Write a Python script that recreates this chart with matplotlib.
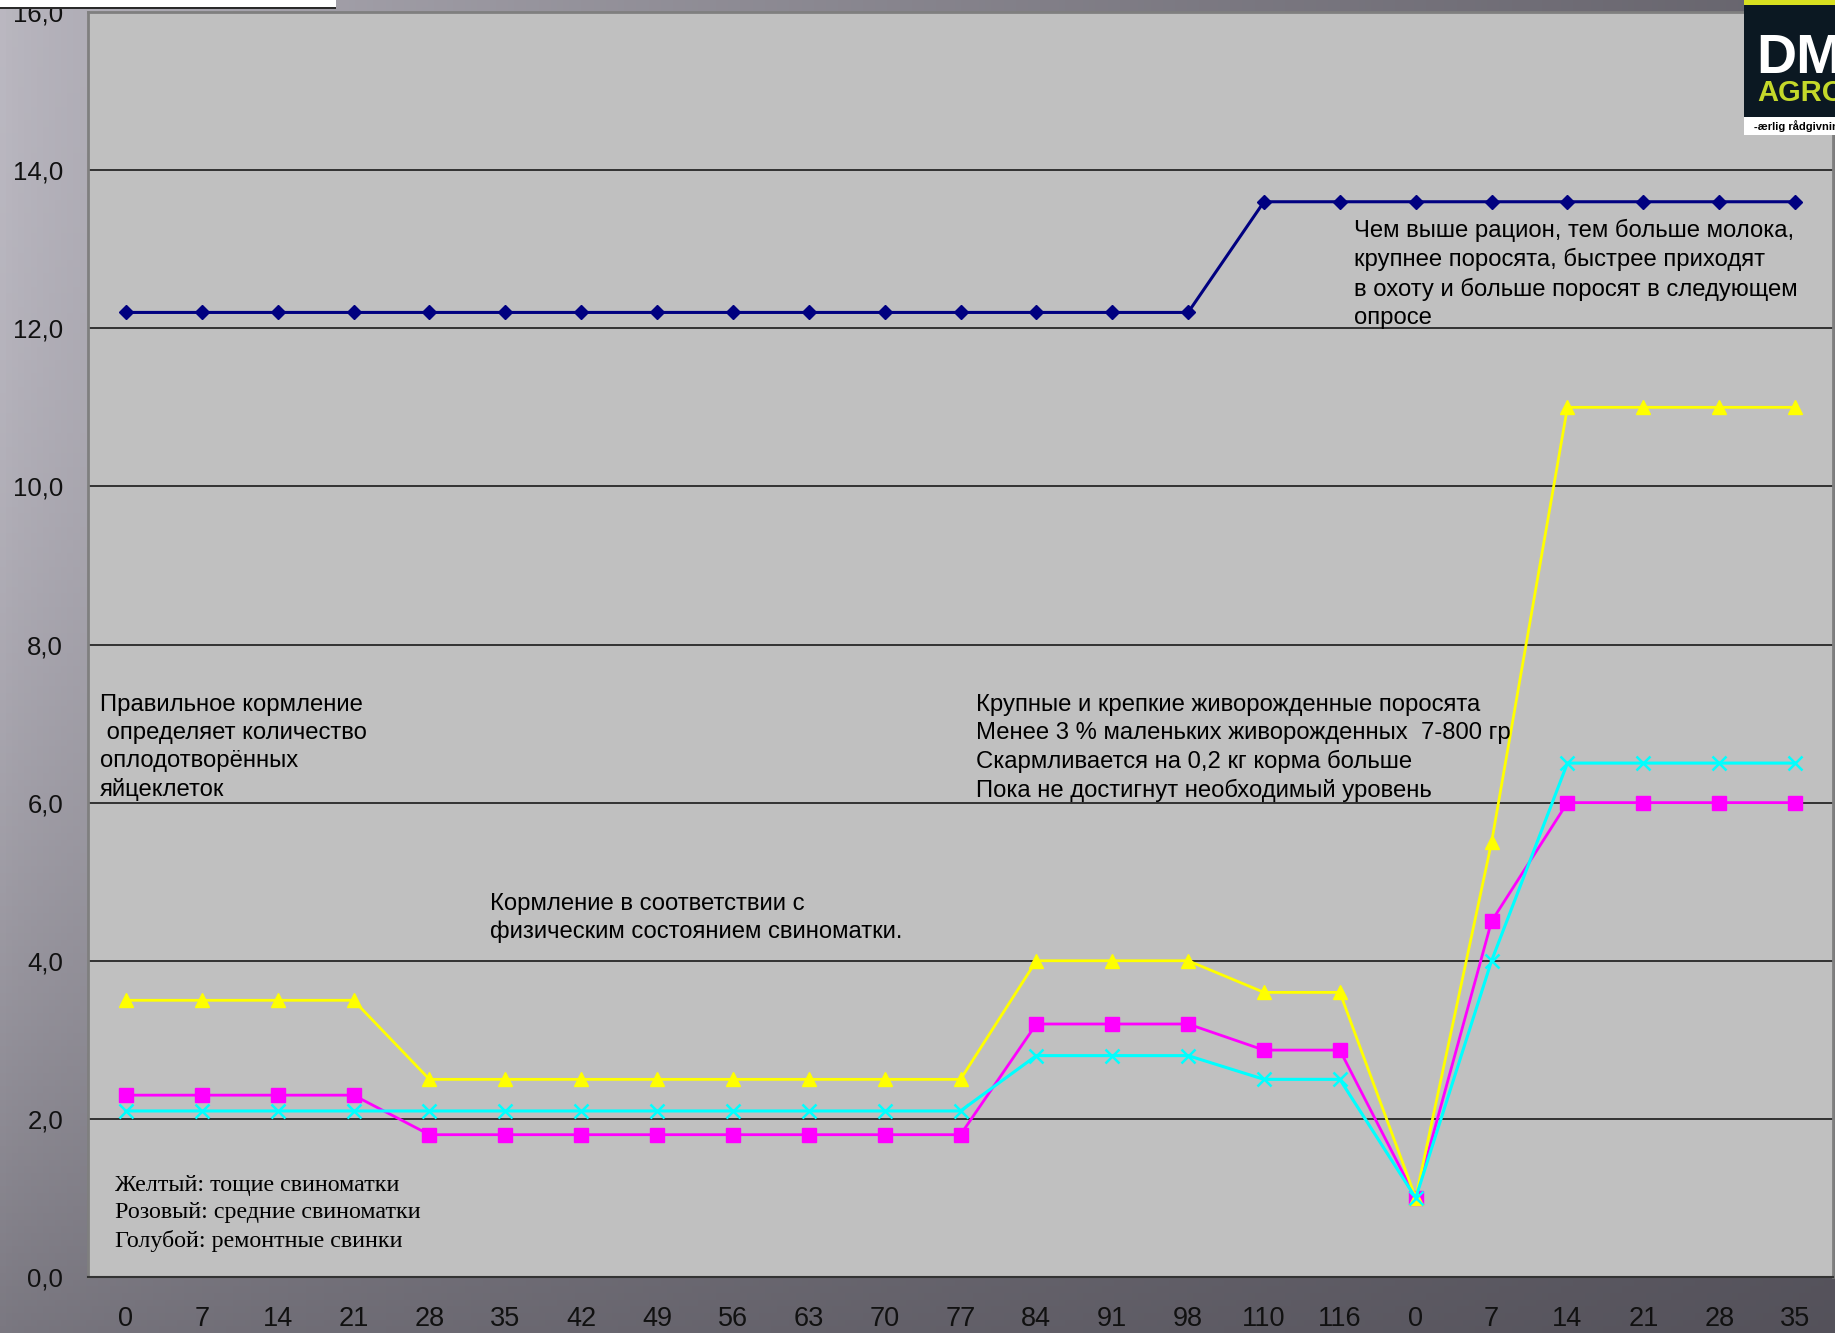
import numpy as np
import matplotlib
matplotlib.use('Agg')
import matplotlib.pyplot as plt
from matplotlib.patches import Rectangle

plt.rcParams['font.family'] = ['Liberation Sans', 'DejaVu Sans']

# подписи оси X (дни)
days = ['0', '7', '14', '21', '28', '35', '42', '49', '56', '63', '70', '77',
        '84', '91', '98', '110', '116', '0', '7', '14', '21', '28', '35']
# кг корма в день
lactation = [12.2] * 15 + [13.6] * 8
yellow = [3.5, 3.5, 3.5, 3.5, 2.5, 2.5, 2.5, 2.5, 2.5, 2.5, 2.5, 2.5,
          4.0, 4.0, 4.0, 3.6, 3.6, 1.0, 5.5, 11.0, 11.0, 11.0, 11.0]
pink = [2.3, 2.3, 2.3, 2.3, 1.8, 1.8, 1.8, 1.8, 1.8, 1.8, 1.8, 1.8,
        3.2, 3.2, 3.2, 2.87, 2.87, 1.0, 4.5, 6.0, 6.0, 6.0, 6.0]
blue = [2.1, 2.1, 2.1, 2.1, 2.1, 2.1, 2.1, 2.1, 2.1, 2.1, 2.1, 2.1,
        2.8, 2.8, 2.8, 2.5, 2.5, 1.0, 4.0, 6.5, 6.5, 6.5, 6.5]
yticks = [0, 2, 4, 6, 8, 10, 12, 14, 16]

W, H = 1835, 1333
fig = plt.figure(figsize=(W / 100, H / 100), dpi=100)

# фон слайда - градиент
yy, xx = np.mgrid[0:1:200j, 0:1:300j]
u = xx ** 0.7
v = yy ** 2
L = 0.73 * (1 - u) * (1 - v) + 0.40 * u * (1 - v) + 0.48 * (1 - u) * v + 0.33 * u * v
bg = np.dstack([L, L - 0.01, L + 0.025]).clip(0, 1)
axbg = fig.add_axes([0, 0, 1, 1], zorder=-1)
axbg.imshow(bg, aspect='auto', extent=[0, 1, 0, 1], origin='upper')
axbg.axis('off')

x0, x1, y0, y1 = 88, 1833, 12, 1277
ax = fig.add_axes([x0 / W, 1 - y1 / H, (x1 - x0) / W, (y1 - y0) / H])
ax.set_facecolor('#c0c0c0')
x = np.arange(len(days))

ax.plot(x, lactation, color='#000080', lw=2.2, marker='D', ms=7.5, zorder=3)
ax.plot(x, pink, color='#ff00ff', lw=2, marker='s', ms=10.5, zorder=4)
ax.plot(x, yellow, color='#ffff00', lw=2, marker='^', ms=10.5, zorder=5)
ax.plot(x, blue, color='#00ffff', lw=2.2, marker='x', ms=10, mew=1.8, zorder=6)

ax.set_xlim(-0.5, len(days) - 0.5)
ax.set_ylim(0, 16)
ax.set_xticks(x)
ax.set_xticklabels(days)
ax.set_yticks(yticks)
ax.set_yticklabels([('%.1f' % t).replace('.', ',') for t in yticks])
ax.tick_params(axis='x', length=0, pad=21, labelsize=19.5, labelcolor='#111111')
ax.tick_params(axis='y', length=0, pad=18, labelsize=18.5, labelcolor='#111111')
for t in yticks[1:-1]:
    ax.axhline(t, color='#1a1a1a', lw=1.2, zorder=1)
for s in ['left', 'top', 'right']:
    ax.spines[s].set_color('#7f7f7f')
    ax.spines[s].set_linewidth(2)
ax.spines['bottom'].set_color('#333333')
ax.spines['bottom'].set_linewidth(1.5)

def fx(px):
    return (px - x0) / (x1 - x0)

def fy(py):
    return (y1 - py) / (y1 - y0)

fs = 17.2
ls = 1.34
ax.text(fx(100), fy(694), 'Правильное кормление\n определяет количество\nоплодотворённых\nяйцеклеток',
        transform=ax.transAxes, fontsize=fs, va='top', ha='left', linespacing=ls, zorder=7)
ax.text(fx(976), fy(694), 'Крупные и крепкие живорожденные поросята\n'
        'Менее 3 % маленьких живорожденных  7-800 гр\n'
        'Скармливается на 0,2 кг корма больше\n'
        'Пока не достигнут необходимый уровень',
        transform=ax.transAxes, fontsize=fs, va='top', ha='left', linespacing=ls, zorder=7)
ax.text(fx(490), fy(893), 'Кормление в соответствии с\nфизическим состоянием свиноматки.',
        transform=ax.transAxes, fontsize=fs, va='top', ha='left', linespacing=ls, zorder=7)
ax.text(fx(1354), fy(219), 'Чем выше рацион, тем больше молока,\nкрупнее поросята, быстрее приходят\n'
        'в охоту и больше поросят в следующем\nопросе',
        transform=ax.transAxes, fontsize=fs, va='top', ha='left', linespacing=ls, zorder=7)
ax.text(fx(115), fy(1175), 'Желтый: тощие свиноматки\nРозовый: средние свиноматки\nГолубой: ремонтные свинки',
        transform=ax.transAxes, fontsize=17.3, va='top', ha='left', linespacing=1.4,
        family=['Liberation Serif', 'DejaVu Serif'], zorder=7)

# белая полоса сверху слева (остаток заголовка)
fig.patches.append(Rectangle((0, 1 - 7 / H), 336 / W, 7 / H, transform=fig.transFigure,
                             facecolor='white', edgecolor='none', zorder=5))
fig.patches.append(Rectangle((0, 1 - 9 / H), 336 / W, 2 / H, transform=fig.transFigure,
                             facecolor='#2a2a2a', edgecolor='none', zorder=5))

# логотип DM AGRO
lx = 1744
fig.patches.append(Rectangle((lx / W, 1 - 117 / H), (W - lx) / W, 117 / H, transform=fig.transFigure,
                             facecolor='#0b1822', edgecolor='none', zorder=5))
fig.patches.append(Rectangle((lx / W, 1 - 135 / H), (W - lx) / W, 18 / H, transform=fig.transFigure,
                             facecolor='white', edgecolor='none', zorder=5))
fig.patches.append(Rectangle((lx / W, 1 - 5 / H), (W - lx) / W, 5 / H, transform=fig.transFigure,
                             facecolor='#d8e020', edgecolor='none', zorder=5))
fig.text(1756 / W, 1 - 73 / H, 'DM', color='white', fontsize=40, fontweight='heavy',
         va='baseline', ha='left', zorder=6)
fig.text(1757 / W, 1 - 101 / H, 'AGRO', color='#c4d82a', fontsize=21, fontweight='heavy',
         va='baseline', ha='left', zorder=6)
fig.text(1754 / W, 1 - 130 / H, '-ærlig rådgivning', color='black', fontsize=8, fontweight='bold',
         va='baseline', ha='left', zorder=6)

fig.savefig('out.png', dpi=100)
